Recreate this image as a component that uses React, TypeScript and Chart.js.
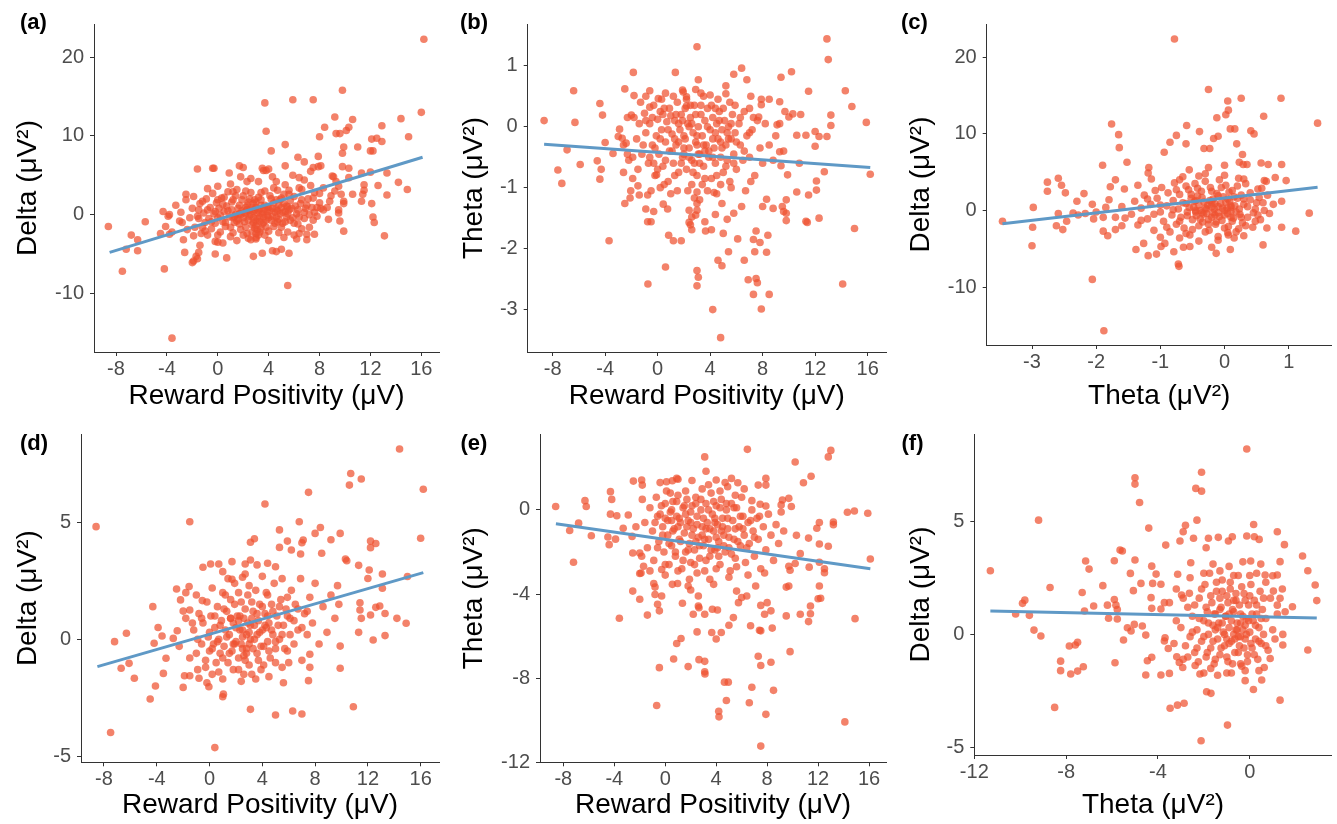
import React, { useEffect, useRef } from "react";
import { Chart, registerables } from "chart.js";
Chart.register(...registerables);

type Pt = [number, number];

// ---------- tick values ----------
const rpTicks = [-8, -4, 0, 4, 8, 12, 16];
const deltaTicksTop = [-10, 0, 10, 20];
const thetaTicksB = [-3, -2, -1, 0, 1];
const thetaTicksC = [-3, -2, -1, 0, 1];
const deltaTicksBottom = [-5, 0, 5];
const thetaTicksE = [-12, -8, -4, 0];
const thetaTicksF = [-12, -8, -4, 0];

// ---------- panel (a): Reward Positivity vs Delta ----------
const aOuter: Pt[] = [[16.2,22.3],[16.0,13.0],[15.0,9.9],[14.9,3.2],[14.2,4.1],[14.4,12.2],[13.3,5.3],[13.3,2.5],[13.1,-2.7],[12.9,11.3],[12.9,9.3],[12.5,9.7],[12.1,9.6],[12.0,8.1],[12.2,8.1],[12.6,3.7],[12.1,1.4],[12.2,-0.3],[12.3,-1.0],[12.0,5.4],[11.5,3.8],[11.5,3.1],[11.4,2.6],[11.3,5.3],[11.0,8.6],[11.3,1.7],[10.6,12.1],[10.3,11.1],[10.1,10.7],[9.9,8.6],[9.8,6.1],[9.9,1.7],[9.9,1.4],[10.3,4.7],[10.6,2.6],[10.3,5.9],[9.8,7.8],[9.6,10.3],[9.3,10.3],[9.2,12.4],[9.8,15.8],[9.9,-2.1],[9.6,-0.8],[9.5,0.2],[9.5,0.6],[9.7,2.6],[9.5,3.6],[9.3,4.2],[9.1,4.8],[9.0,4.9],[8.8,1.7],[8.7,-0.6],[8.4,11.1],[8.0,9.9],[7.9,7.4],[7.9,6.1],[7.5,14.6],[5.9,14.6],[3.7,14.2],[3.8,10.6],[4.2,8.1],[5.3,8.9],[6.3,7.3],[6.8,6.7],[7.5,6.0],[5.3,6.2],[8.0,2.7],[8.1,0.8],[8.3,0.6],[7.6,0.3],[7.5,-0.7],[7.6,-2.5],[7.0,-2.5],[7.0,-3.2],[6.4,-2.4],[6.2,-3.1],[5.6,-4.9],[5.5,-9.0],[5.0,-4.4],[4.6,-4.7],[4.3,-4.6],[3.5,-4.9],[2.8,-5.3],[3.0,-3.1],[3.0,-2.9],[3.0,-2.4],[0.7,-5.5],[-0.2,-5.0],[-0.2,-3.4],[0.0,-3.5],[-1.4,-3.9],[-1.5,-4.8],[-1.7,-5.3],[-1.9,-5.9],[-2.0,-6.1],[-1.6,-5.6],[-2.6,-4.8],[-2.7,-3.2],[-2.8,-1.0],[-3.6,-2.2],[-3.8,-2.5],[-3.8,0.0],[-3.9,-0.2],[-4.3,0.4],[-4.1,-1.5],[-4.5,-2.4],[-4.2,-6.9],[-3.6,-15.7],[-5.7,-0.9],[-6.3,-3.2],[-6.3,-4.6],[-6.8,-2.6],[-7.2,-4.4],[-7.5,-7.2],[-8.6,-1.5],[-2.5,2.6],[-2.5,1.9],[-1.9,2.3],[-1.6,5.8],[-1.5,0.6],[-1.2,1.7],[-0.4,5.9],[-0.3,5.9],[-0.8,3.3],[0.0,3.6],[0.9,5.3],[1.7,6.2],[2.0,6.0],[1.8,4.8],[2.3,4.2],[3.2,4.2],[3.5,5.9],[3.6,5.6],[3.8,5.6],[4.0,5.8],[4.6,4.2],[5.3,3.8],[5.9,5.0],[6.4,4.7],[6.8,4.4],[7.3,5.5],[8.1,6.2]];
const aCore: Pt[] = [[-2.2,-0.4],[-2.0,0.8],[-1.8,-1.6],[-1.6,-0.2],[-1.4,1.4],[-1.3,-2.4],[-1.1,0.2],[-1.0,-1.0],[-0.9,2.0],[-0.7,-0.5],[-0.6,0.9],[-0.5,-1.8],[-0.4,2.7],[-0.3,0.1],[-0.2,-1.1],[-0.1,1.5],[0.0,-0.4],[0.1,0.8],[0.2,-2.2],[0.3,2.1],[0.4,-0.9],[0.5,0.4],[0.6,-1.5],[0.7,1.1],[0.8,2.9],[0.9,-0.3],[1.0,-2.8],[1.1,0.6],[1.2,1.9],[1.3,-1.0],[1.4,0.0],[1.5,3.2],[1.6,-0.6],[1.7,1.2],[1.8,-1.9],[1.9,0.5],[2.0,2.4],[2.1,-0.9],[2.2,0.9],[2.3,-2.4],[2.4,1.6],[2.5,-0.2],[2.6,2.8],[2.7,-1.3],[2.8,0.4],[2.9,1.9],[3.0,-0.8],[3.0,0.9],[3.1,-1.9],[3.2,2.2],[3.3,-0.3],[3.4,1.2],[3.5,-1.2],[3.6,0.3],[3.7,3.0],[3.8,-0.7],[3.9,1.0],[4.0,-2.1],[4.1,0.5],[4.2,2.0],[4.3,-0.2],[4.4,1.5],[4.5,-1.1],[4.6,0.7],[4.7,3.1],[4.8,-0.6],[4.9,1.9],[5.0,-1.6],[5.1,0.3],[5.2,2.6],[5.3,-0.9],[5.4,1.1],[5.5,-2.2],[5.6,0.6],[5.7,1.8],[5.9,-0.4],[6.0,2.3],[6.2,0.1],[6.3,-1.2],[6.5,1.4],[6.6,3.2],[6.8,-0.5],[6.9,0.8],[7.1,2.0],[7.2,-1.6],[7.4,0.9],[7.6,2.8],[7.8,-0.2],[8.0,1.5],[8.3,3.4],[8.6,0.9],[8.9,2.4],[9.2,3.0],[1.0,3.9],[2.6,4.6],[4.3,4.8],[5.6,3.1],[0.4,-3.6],[1.5,-3.3],[2.4,-3.0],[4.0,-3.3],[5.2,-2.9],[6.0,-2.6],[-0.8,-2.6],[-1.9,-2.7],[-2.4,-1.9],[-3.0,-0.8],[-3.3,1.2],[-2.9,0.3],[2.2,0.1],[2.5,0.6],[2.8,-0.4],[3.1,0.2],[3.3,0.7],[3.6,-0.3],[3.9,0.4],[2.9,-1.7],[3.2,-2.6],[2.7,-2.2],[3.4,-1.8],[1.7,0.1],[1.2,-0.4],[4.6,-0.3],[5.0,0.9],[5.5,0.1]];
const aDense: Pt[] = [[0.2,-0.1],[0.4,1.3],[0.6,-1.0],[0.8,0.5],[1.0,-1.6],[1.1,1.6],[1.3,-0.2],[1.4,2.4],[1.6,0.8],[1.7,-1.2],[1.9,1.9],[2.0,-0.4],[2.1,0.3],[2.2,-1.6],[2.3,1.2],[2.4,-0.7],[2.5,2.0],[2.6,0.0],[2.7,0.9],[2.8,-1.0],[2.9,0.6],[3.0,1.6],[3.0,-1.4],[3.1,-0.5],[3.2,0.5],[3.3,-2.2],[3.4,1.9],[3.5,0.1],[3.6,-1.0],[3.7,1.2],[3.8,-1.6],[3.9,-0.1],[4.0,0.9],[4.1,2.4],[4.2,-0.7],[4.3,0.8],[4.4,-1.5],[4.5,0.3],[4.6,1.9],[4.7,-0.9],[4.8,1.2],[4.9,0.1],[5.0,2.1],[5.1,-1.1],[5.2,1.4],[5.3,0.4],[5.4,-0.3],[5.5,1.0],[5.7,-0.7],[5.8,0.8],[6.0,-1.1],[6.1,1.1],[6.3,0.6],[6.4,-0.3],[6.6,1.9],[6.8,0.3],[7.0,1.2],[7.2,0.0],[7.5,2.1],[7.8,0.9],[-0.5,-0.9],[-0.8,0.6],[-1.2,-1.6],[-1.5,-0.5],[-0.2,0.4],[0.0,1.9],[0.5,2.2],[1.2,2.9],[2.2,3.0],[3.4,2.8],[4.4,3.4],[5.6,2.6],[6.4,3.4],[7.3,3.7],[0.0,-2.6],[1.2,-2.3],[2.0,-2.6],[2.6,-3.2],[3.7,-2.6],[4.8,-2.3],[6.6,-1.8],[-1.0,-2.1],[1.5,-0.8],[2.3,0.6],[3.6,0.7],[4.0,-0.4],[2.8,1.4],[3.3,-0.9],[1.8,0.0],[4.7,0.5]];
const aLine: Pt[] = [[-8.5,-4.8],[16.1,7.3]];

// ---------- panel (b): Reward Positivity vs Theta ----------
const bOuter: Pt[] = [[-8.65,0.10],[-7.6,-0.71],[-7.3,-0.93],[-6.9,-0.38],[-6.4,0.59],[-6.3,0.07],[-5.9,-0.62],[-4.4,0.38],[-4.2,0.19],[-4.6,-0.56],[-4.4,-0.86],[-4.3,-0.70],[-4.0,-0.26],[-3.7,-1.87],[-3.4,-0.44],[-3.0,-0.16],[-2.9,-0.04],[-2.7,-0.19],[-2.6,-0.75],[-2.5,-1.26],[-2.5,0.62],[-2.4,-0.27],[-2.2,-0.55],[-1.85,0.89],[-1.8,0.51],[-2.3,0.15],[-2.0,0.19],[-2.1,-1.17],[-2.05,-1.05],[-1.9,-0.85],[-1.5,-0.97],[-1.4,-1.12],[-0.76,-1.12],[-0.9,-1.35],[-0.76,-1.56],[-0.5,-1.56],[-0.74,-2.58],[-0.6,0.59],[-0.6,0.32],[-0.3,-1.39],[-0.08,-0.79],[0.05,0.46],[0.6,-2.3],[0.84,-1.78],[0.76,-1.35],[0.43,-1.27],[1.2,-1.87],[1.8,-1.87],[1.35,0.89],[1.95,0.57],[2.2,0.49],[2.2,0.34],[2.9,0.61],[3.1,0.77],[3.0,1.31],[4.0,0.52],[2.6,-1.48],[2.4,-1.37],[2.4,-1.57],[2.5,-1.61],[2.6,-1.69],[2.8,-1.17],[3.0,-1.07],[3.0,-1.26],[3.0,-1.37],[2.9,-1.45],[3.0,-2.36],[3.1,-2.47],[3.0,-2.61],[3.2,-1.2],[3.6,-1.56],[3.65,-1.71],[4.1,-1.69],[4.3,-1.08],[4.4,-1.44],[4.6,-2.19],[4.9,-2.28],[4.2,-3.0],[4.8,-3.46],[5.0,-1.75],[4.9,-1.26],[5.3,-1.52],[5.4,-2.05],[5.8,-1.42],[6.1,-1.84],[6.4,-1.31],[6.6,-2.19],[6.9,-2.51],[7.3,-2.75],[7.5,-2.49],[7.6,-2.56],[7.4,-2.05],[7.3,-1.85],[7.5,-1.71],[7.8,-1.90],[7.9,-2.99],[8.5,-2.75],[8.3,-2.06],[8.4,-1.78],[8.3,-1.19],[8.0,-1.31],[8.8,-1.34],[9.5,-1.31],[9.6,-1.39],[9.8,-1.42],[9.8,-1.54],[9.8,-1.2],[9.9,-0.79],[10.6,-1.07],[10.8,-0.6],[11.3,-1.55],[11.4,-1.57],[11.5,-1.12],[12.1,-1.04],[12.3,-1.5],[12.1,-0.89],[12.3,-0.16],[12.0,-0.08],[12.0,-0.32],[12.7,-0.74],[12.9,-0.16],[12.9,1.44],[13.0,1.1],[13.2,0.19],[13.2,0.02],[14.3,0.59],[14.8,0.33],[15.0,-1.67],[14.1,-2.58],[15.9,0.07],[16.2,-0.78],[11.5,0.58],[10.9,0.2],[10.3,0.21],[10.2,0.9],[10.0,0.16],[9.7,0.25],[9.4,0.81],[9.3,0.41],[9.1,0.03],[11.3,-0.14],[10.6,-0.14],[9.3,-0.41],[9.4,-0.64],[7.9,0.45],[7.9,0.36],[7.7,0.16],[7.3,0.15],[7.0,0.3],[6.8,0.77],[6.4,0.96],[5.8,0.86],[5.2,0.67],[5.2,0.54],[7.1,-0.9]];
const bCore: Pt[] = [[-1.8,0.15],[-1.6,-0.2],[-1.4,0.05],[-1.2,-0.45],[-1.0,0.22],[-0.9,-0.1],[-0.7,-0.6],[-0.6,0.05],[-0.4,-0.3],[-0.3,0.35],[-0.2,-0.8],[-0.1,-0.15],[0.0,0.12],[0.1,-0.45],[0.2,0.25],[0.3,-0.05],[0.4,-0.65],[0.5,0.3],[0.6,-0.25],[0.7,0.08],[0.8,-0.9],[0.9,-0.4],[1.0,0.18],[1.1,-0.12],[1.2,-0.6],[1.3,0.1],[1.4,-0.3],[1.5,0.4],[1.6,-0.75],[1.7,-0.05],[1.8,0.2],[1.9,-0.5],[2.0,-0.15],[2.1,0.3],[2.2,-0.7],[2.3,0.05],[2.4,-0.35],[2.5,0.15],[2.6,-0.55],[2.7,-0.1],[2.8,0.35],[2.9,-0.25],[3.0,-0.8],[3.1,0.0],[3.2,-0.45],[3.3,0.2],[3.4,-0.15],[3.5,-0.65],[3.6,0.1],[3.7,-0.3],[3.8,0.3],[3.9,-0.5],[4.0,-0.05],[4.1,-0.85],[4.2,0.15],[4.3,-0.35],[4.4,-0.6],[4.5,0.05],[4.6,-0.2],[4.7,0.25],[4.8,-0.5],[4.9,-0.05],[5.0,-0.75],[5.1,0.1],[5.2,-0.3],[5.3,-0.55],[5.4,0.0],[5.5,-0.9],[5.6,-0.2],[5.7,0.2],[5.8,-0.45],[5.9,-0.1],[6.0,-0.7],[6.2,0.05],[6.3,-0.3],[6.5,-0.55],[6.6,0.25],[6.8,-0.15],[7.0,-0.5],[7.2,-0.05],[7.4,-0.8],[7.6,0.1],[7.8,-0.35],[8.0,-0.6],[8.2,0.05],[8.5,-0.3],[8.8,-0.55],[9.0,-0.15],[9.3,0.05],[9.6,-0.4],[0.2,-1.0],[1.0,-1.1],[2.3,-1.05],[3.4,-0.95],[4.5,-1.1],[5.6,-1.0],[6.7,-1.05],[-0.5,-1.05],[-1.5,-0.7],[-0.9,0.5],[0.6,0.55],[1.9,0.6],[3.3,0.55],[4.6,0.45],[5.5,0.4],[7.1,0.5],[8.5,0.45],[-2.3,-0.45],[-2.6,-0.3],[-1.9,-0.5],[1.3,-0.2],[2.4,0.0],[3.0,-0.3],[3.6,-0.4],[4.2,-0.2],[2.0,-0.35],[2.8,-0.6],[4.8,-0.25],[5.3,-0.1],[1.6,0.05]];
const bDense: Pt[] = [[-1.1,-0.3],[-0.9,0.1],[-0.6,-0.5],[-0.4,0.15],[-0.2,-0.35],[0.0,-0.7],[0.2,-0.2],[0.4,0.2],[0.6,-0.55],[0.8,-0.05],[0.9,0.3],[1.1,-0.4],[1.3,-0.8],[1.4,0.2],[1.6,-0.25],[1.8,-0.6],[1.9,0.1],[2.1,-0.2],[2.2,0.45],[2.4,-0.5],[2.6,0.05],[2.7,-0.75],[2.9,0.2],[3.0,-0.15],[3.2,-0.6],[3.3,0.35],[3.5,-0.3],[3.6,-0.85],[3.8,0.0],[3.9,-0.4],[4.1,0.35],[4.2,-0.5],[4.4,-0.1],[4.5,-0.8],[4.7,0.1],[4.9,-0.35],[5.0,0.3],[5.2,-0.65],[5.4,-0.2],[5.6,0.05],[5.8,-0.6],[6.0,-0.25],[6.3,0.15],[6.6,-0.4],[7.0,-0.1],[0.5,-0.95],[1.5,-1.05],[2.6,-0.95],[3.8,-1.05],[4.8,-0.95],[-1.3,0.4],[0.3,0.45],[1.2,0.5],[2.5,0.35],[3.5,0.5],[4.4,0.3],[5.9,0.35],[-0.3,-0.6],[2.0,-0.45],[3.1,-0.45]];
const bLine: Pt[] = [[-8.65,-0.29],[16.2,-0.67]];

// ---------- panel (c): Theta vs Delta ----------
const cOuter: Pt[] = [[-0.78,22.4],[-0.25,15.8],[0.05,14.3],[0.26,14.65],[0.88,14.65],[0.06,13.1],[0.02,12.5],[-0.12,12.1],[0.61,12.3],[1.45,11.4],[0.09,10.65],[0.16,10.65],[0.41,10.4],[0.46,10.0],[-0.10,9.7],[-0.17,9.4],[-0.39,10.3],[-0.59,11.1],[-0.75,9.8],[-0.85,8.9],[-0.6,8.7],[-0.32,8.1],[-0.23,8.1],[0.19,8.7],[0.28,7.3],[0.23,6.3],[0.29,6.0],[0.35,6.0],[-0.94,7.6],[-1.76,11.3],[-1.65,9.9],[-1.64,8.2],[-1.52,6.3],[-1.9,5.9],[-1.7,4.0],[-1.78,3.1],[-1.56,2.8],[-1.18,5.6],[-1.14,4.1],[-1.19,4.9],[-1.35,3.3],[-1.08,2.6],[-2.59,4.2],[-2.54,3.3],[-2.76,3.7],[-2.76,2.5],[-2.48,2.3],[-2.19,2.2],[-2.3,1.2],[-2.06,0.8],[-2.98,0.4],[-2.59,-0.4],[-2.36,-0.35],[-2.28,-0.6],[-2.17,-0.4],[-3.46,-1.4],[-2.99,-2.2],[-3.0,-4.6],[-2.62,-2.0],[-2.52,-2.5],[-2.46,-1.4],[-2.04,-1.1],[-2.06,-9.0],[-1.88,-15.7],[-1.89,-0.9],[-1.85,0.4],[-1.89,-2.7],[-1.82,-3.3],[-1.7,-2.5],[-1.6,-2.0],[-1.55,-1.0],[-1.38,-5.1],[-1.26,-4.3],[-1.19,-5.9],[-1.06,-5.7],[-0.99,-4.7],[-0.93,-4.3],[-0.79,-5.4],[-0.72,-7.0],[-0.71,-7.3],[-0.64,-4.8],[-0.54,-4.7],[-0.2,-4.8],[-0.13,-5.6],[0.09,-5.1],[-0.1,-3.4],[0.06,-3.2],[0.3,-3.3],[0.22,-2.4],[0.48,-1.4],[0.66,-2.3],[0.6,-4.5],[0.89,-2.2],[1.11,-2.7],[1.32,-0.35],[0.62,0.0],[0.76,0.8],[0.89,1.2],[0.79,4.3],[0.96,3.9],[0.68,6.0],[0.89,6.0],[0.57,6.2],[0.62,3.9],[0.58,2.9],[0.67,2.0],[0.54,1.7],[0.52,-0.6]];
const cCore: Pt[] = [[-1.45,-0.5],[-1.4,1.2],[-1.35,-1.9],[-1.3,0.3],[-1.25,2.0],[-1.2,-1.1],[-1.15,0.8],[-1.1,-2.6],[-1.05,1.6],[-1.0,-0.2],[-0.98,3.0],[-0.95,-1.4],[-0.9,0.6],[-0.88,2.3],[-0.85,-2.8],[-0.82,-0.6],[-0.8,1.3],[-0.78,3.6],[-0.75,-1.8],[-0.72,0.2],[-0.7,2.1],[-0.68,-0.9],[-0.65,4.4],[-0.63,-2.3],[-0.6,0.9],[-0.58,-0.2],[-0.56,2.7],[-0.54,-3.2],[-0.52,1.6],[-0.5,-1.2],[-0.48,0.4],[-0.46,3.5],[-0.44,-0.7],[-0.42,1.9],[-0.4,-2.0],[-0.38,0.0],[-0.36,2.5],[-0.34,-1.5],[-0.32,1.1],[-0.3,4.8],[-0.28,-0.4],[-0.26,0.7],[-0.24,-2.6],[-0.22,3.0],[-0.2,-0.9],[-0.18,1.5],[-0.16,0.2],[-0.14,-1.8],[-0.12,2.2],[-0.1,-0.3],[-0.08,4.0],[-0.06,0.9],[-0.04,-1.3],[-0.02,1.8],[0.0,-0.6],[0.02,3.3],[0.04,0.3],[0.06,-2.1],[0.08,1.2],[0.1,-0.1],[0.12,2.6],[0.14,-1.0],[0.16,0.6],[0.18,-2.8],[0.2,1.6],[0.22,4.2],[0.24,-0.5],[0.26,2.0],[0.28,-1.6],[0.3,0.8],[0.33,3.5],[0.36,-0.9],[0.4,1.4],[0.44,-2.2],[0.48,0.2],[0.52,2.8],[0.56,-1.2],[0.6,1.0],[0.65,3.8],[0.7,-0.4],[-0.55,5.3],[-0.25,5.6],[0.0,5.9],[-0.4,-4.0],[-0.1,-3.9],[0.15,-3.6],[-0.7,-3.6],[-1.0,-3.5],[-1.7,-0.9],[-1.8,1.4],[-1.6,0.5],[-2.0,-0.2],[-0.3,0.3],[-0.2,1.0],[-0.1,0.5],[0.0,0.0],[-0.35,-0.3],[-0.15,-0.6],[0.05,1.5],[-0.45,1.3],[0.1,0.4],[-0.25,-1.2]];
const cDense: Pt[] = [[-0.8,0.1],[-0.75,2.7],[-0.7,-1.4],[-0.65,1.0],[-0.6,3.2],[-0.58,-0.7],[-0.55,0.4],[-0.52,2.1],[-0.5,-2.5],[-0.47,1.2],[-0.45,-0.2],[-0.42,2.9],[-0.4,0.7],[-0.38,-1.1],[-0.35,1.7],[-0.33,-0.5],[-0.3,3.8],[-0.28,0.2],[-0.25,-1.8],[-0.23,1.3],[-0.2,2.5],[-0.18,-0.3],[-0.15,0.9],[-0.13,-1.5],[-0.1,1.9],[-0.08,-0.8],[-0.05,3.0],[-0.03,0.3],[0.0,-2.3],[0.02,1.1],[0.05,-0.4],[0.07,2.4],[0.1,0.6],[0.12,-1.4],[0.15,1.8],[0.18,-0.2],[0.2,3.2],[0.23,0.2],[0.26,-0.9],[0.3,1.5],[0.33,-2.0],[0.36,0.5],[0.4,2.3],[0.45,-0.3],[0.5,1.0],[-1.0,0.7],[-1.1,-0.5],[-1.2,1.5],[-1.3,-1.3],[-0.9,-2.2],[-0.7,4.0],[-0.4,4.5],[0.0,4.6],[0.3,4.1],[-0.6,-3.0],[-0.3,-2.8],[0.05,-2.9],[-0.45,0.0],[-0.2,0.5],[0.1,-0.9]];
const cLine: Pt[] = [[-3.46,-1.74],[1.45,3.04]];

// ---------- panel (d): Reward Positivity vs Delta ----------
const dOuter: Pt[] = [[14.4,8.16],[10.7,7.11],[11.5,6.87],[10.6,6.61],[7.5,6.3],[16.2,6.43],[4.2,5.8],[-1.5,5.04],[-8.6,4.83],[6.8,5.04],[5.3,4.69],[8.4,4.79],[8.0,4.54],[9.9,4.54],[16.0,4.33],[9.2,4.27],[7.1,4.26],[7.0,4.14],[3.4,4.31],[3.1,4.16],[5.9,4.21],[12.2,4.21],[12.6,4.11],[12.2,3.93],[5.3,3.94],[6.2,3.83],[6.9,3.66],[8.5,3.69],[10.3,3.44],[10.4,3.37],[11.3,3.17],[12.1,2.97],[13.1,2.8],[12.0,2.61],[15.0,2.69],[13.1,2.19],[12.6,1.37],[12.9,1.43],[13.3,1.11],[11.4,1.57],[11.4,1.26],[11.5,0.9],[12.2,1.04],[14.2,0.9],[14.9,0.69],[11.3,0.3],[12.4,-0.03],[13.3,0.16],[10.9,-2.89],[9.9,-1.24],[9.9,-0.29],[7.6,-0.64],[7.6,-1.2],[7.5,-1.77],[7.0,-3.2],[6.3,-3.07],[5.6,-1.86],[5.0,-3.24],[3.1,-3.0],[0.4,-4.64],[1.0,-2.46],[1.05,-2.35],[-0.05,-2.03],[-0.2,-1.86],[-2.0,-2.06],[-1.9,-1.56],[-1.5,-1.56],[-0.8,-1.67],[-4.1,-2.0],[-4.5,-2.56],[-3.5,-1.46],[-3.3,-0.81],[-7.5,-3.99],[-5.7,-1.67],[-6.7,-1.24],[-6.1,-1.03],[-7.2,-0.1],[-6.3,0.26],[-4.3,1.4],[-3.9,0.51],[-3.6,0.14],[-4.2,-0.17],[-2.75,0.04],[-2.45,0.37],[-2.2,1.69],[-2.5,2.16],[-1.8,2.0],[-1.55,2.26],[-1.0,1.9],[-0.5,3.09],[0.08,3.23],[0.7,3.23],[1.0,2.9],[1.7,3.33],[2.7,3.23],[3.1,3.4],[3.6,3.19],[4.4,3.26],[5.0,3.11],[1.7,2.57],[2.5,2.66],[-0.55,1.66],[-2.0,1.21],[-1.5,1.26]];
const dCore: Pt[] = [[-1.2,0.4],[-1.0,-0.6],[-0.8,1.1],[-0.6,-0.2],[-0.5,0.7],[-0.3,-1.2],[-0.2,1.6],[-0.1,0.1],[0.0,-0.5],[0.1,1.0],[0.2,2.2],[0.3,-0.2],[0.4,0.5],[0.5,-1.0],[0.6,1.4],[0.7,0.0],[0.8,-0.6],[0.9,0.8],[1.0,2.0],[1.1,-0.3],[1.2,0.4],[1.3,1.2],[1.4,-1.0],[1.5,0.2],[1.6,1.7],[1.7,-0.5],[1.8,0.7],[1.9,2.4],[2.0,-0.1],[2.1,1.0],[2.2,-1.3],[2.3,0.4],[2.4,1.6],[2.5,-0.4],[2.6,0.9],[2.7,-0.9],[2.8,0.2],[2.9,1.9],[3.0,-0.2],[3.1,0.6],[3.2,-1.5],[3.3,1.2],[3.4,0.0],[3.5,2.1],[3.6,-0.6],[3.7,0.8],[3.8,1.5],[3.9,-0.3],[4.0,0.4],[4.1,-1.1],[4.2,1.1],[4.3,2.0],[4.4,-0.1],[4.5,0.7],[4.6,-0.8],[4.7,1.5],[4.8,0.2],[4.9,2.4],[5.0,-0.4],[5.1,1.0],[5.3,0.0],[5.4,1.7],[5.5,-1.2],[5.6,0.6],[5.8,1.3],[5.9,-0.5],[6.1,0.9],[6.2,2.1],[6.4,-0.2],[6.5,1.5],[6.7,0.4],[6.9,2.6],[7.0,-0.9],[7.2,1.1],[7.4,0.2],[7.6,1.8],[7.8,0.7],[8.0,2.4],[8.3,-0.2],[8.6,1.4],[8.9,0.3],[9.2,1.9],[9.5,0.9],[9.7,2.3],[9.8,1.5],[1.0,-1.7],[2.4,-1.8],[3.5,-1.7],[4.5,-1.6],[0.2,-1.5],[6.0,-1.0],[1.4,2.6],[2.7,2.8],[4.0,2.7],[5.5,2.6],[-1.5,-0.8],[-1.8,0.9],[-2.3,-0.3],[-0.9,-1.3],[2.5,0.1],[2.8,-0.4],[3.0,0.3],[2.6,-0.7],[3.2,0.9],[2.2,0.8],[3.6,0.2],[1.9,-0.2],[4.3,0.5],[1.6,0.9]];
const dDense: Pt[] = [[0.0,0.3],[0.2,-0.4],[0.4,1.0],[0.6,-0.1],[0.8,0.6],[1.0,-0.8],[1.1,1.3],[1.3,0.1],[1.5,-0.6],[1.6,0.9],[1.8,-0.2],[1.9,1.5],[2.0,0.5],[2.2,-0.8],[2.3,1.0],[2.4,-0.2],[2.5,0.4],[2.7,1.3],[2.8,-0.6],[2.9,0.7],[3.0,-1.1],[3.1,0.0],[3.2,1.6],[3.3,-0.4],[3.4,0.6],[3.6,1.1],[3.7,-0.9],[3.8,0.3],[4.0,1.4],[4.1,-0.3],[4.2,0.6],[4.4,1.0],[4.5,-0.5],[4.7,0.4],[4.8,1.2],[5.0,-0.1],[5.2,0.6],[5.3,1.4],[5.5,0.2],[5.7,-0.4],[5.9,1.0],[6.1,0.2],[6.4,0.8],[6.7,1.3],[7.0,0.5],[7.4,1.2],[-0.6,0.9],[-0.9,0.0],[-1.3,0.7],[-0.3,-0.9],[0.7,-1.4],[1.8,-1.3],[2.6,-1.5],[3.9,-1.3],[5.0,-1.0],[1.2,1.9],[2.2,2.0],[3.0,2.3],[4.4,1.9],[5.9,1.8]];
const dLine: Pt[] = [[-8.5,-1.17],[16.2,2.86]];

// ---------- panel (e): Reward Positivity vs Theta ----------
const eOuter: Pt[] = [[-8.6,0.16],[-7.5,-0.98],[-7.2,-2.49],[-6.3,0.44],[-6.2,0.16],[-6.8,-0.63],[-5.8,-1.23],[-4.3,0.87],[-4.2,0.5],[-4.3,-0.2],[-4.5,-1.29],[-4.4,-1.65],[-3.9,-1.39],[-3.8,-0.28],[-3.6,-5.15],[-3.3,-0.87],[-2.9,-0.24],[-2.6,-1.26],[-2.55,-2.05],[-2.55,-3.86],[-2.5,1.37],[-2.0,-2.05],[-2.0,-3.02],[-2.0,-4.25],[-1.85,1.42],[-1.8,1.18],[-1.7,-2.68],[-1.85,-2.2],[-1.4,-5.0],[-0.9,-3.5],[-0.8,-3.67],[-0.8,-4.02],[-0.6,-4.49],[-0.46,-4.8],[-0.67,-9.3],[-0.46,-7.5],[-0.28,-4.09],[-0.28,-2.83],[0.1,1.34],[0.56,1.39],[1.0,1.46],[0.56,-3.54],[0.66,-7.09],[0.9,-6.35],[1.24,-6.11],[0.97,-3.5],[1.35,-4.44],[1.8,-7.45],[1.8,-3.62],[2.0,-3.81],[2.2,-4.96],[2.5,-5.8],[2.6,-4.09],[2.6,-4.57],[2.65,-4.65],[2.65,-7.12],[3.1,-4.96],[3.1,-7.2],[3.1,-7.7],[3.12,-7.8],[3.1,2.52],[3.2,1.84],[3.65,-5.83],[3.7,-4.72],[3.8,-3.54],[4.1,-4.76],[4.0,-6.14],[4.2,-9.57],[4.22,-9.84],[4.4,-5.83],[4.65,-8.19],[4.95,-8.19],[4.8,-9.06],[5.0,-5.48],[5.35,-5.12],[5.6,-3.86],[5.75,-4.41],[6.0,-4.17],[6.4,-4.09],[6.45,2.88],[6.7,-5.51],[6.8,-8.43],[6.6,-9.17],[7.1,-3.62],[7.3,-6.96],[7.4,-5.72],[7.5,-5.75],[7.5,-4.54],[7.5,-7.4],[7.5,-11.23],[7.9,-9.72],[8.0,-4.41],[7.8,-4.96],[8.3,-7.24],[8.4,-5.62],[8.3,-4.8],[8.5,-8.58],[9.5,-5.04],[9.8,-6.74],[10.6,-4.96],[11.25,-5.31],[11.4,-4.57],[11.4,-4.94],[12.0,-4.22],[12.2,-4.2],[12.1,-3.62],[14.1,-10.08],[14.9,-5.17],[10.2,2.28],[10.85,1.29],[11.45,1.6],[12.8,2.52],[13.0,2.83],[14.3,-0.11],[14.85,-0.05],[15.9,-0.16],[16.1,-2.33],[13.2,-0.58],[13.2,-0.7],[12.8,-1.73],[12.5,-2.8],[12.5,-2.99],[12.1,-2.49],[12.1,-1.62],[11.9,-0.87],[12.1,-0.6],[11.25,-1.34],[11.3,-2.72],[10.6,-2.08],[10.3,-1.21],[10.2,-2.55],[9.8,-2.87],[9.7,-2.68],[9.7,-3.62],[9.5,-3.67],[9.9,0.16],[9.7,0.55],[9.2,0.47],[9.1,0.24],[7.3,1.18],[7.9,1.5],[7.9,1.18],[7.9,0.19],[7.45,0.27],[6.8,0.44],[4.0,1.42],[4.9,1.1],[5.2,1.5],[5.7,1.29]];
const eCore: Pt[] = [[-1.8,0.5],[-1.6,-0.6],[-1.4,-1.8],[-1.2,0.1],[-1.0,-1.0],[-0.9,-2.4],[-0.7,0.6],[-0.6,-0.3],[-0.5,-1.5],[-0.3,0.2],[-0.2,-0.8],[-0.1,-2.0],[0.0,-0.4],[0.1,0.9],[0.2,-1.2],[0.3,-2.6],[0.4,-0.1],[0.5,-1.7],[0.6,0.4],[0.7,-0.9],[0.8,-2.2],[0.9,-0.3],[1.0,0.7],[1.1,-1.4],[1.2,-0.6],[1.3,-2.8],[1.4,0.1],[1.5,-1.1],[1.6,-2.0],[1.7,0.5],[1.8,-0.5],[1.9,-1.6],[2.0,-2.5],[2.1,0.2],[2.2,-0.9],[2.3,-1.9],[2.4,0.6],[2.5,-0.3],[2.6,-1.3],[2.7,-2.3],[2.8,0.0],[2.9,-0.8],[3.0,-1.7],[3.1,-2.9],[3.2,0.3],[3.3,-0.6],[3.4,-1.4],[3.5,-2.2],[3.6,0.8],[3.7,-0.2],[3.8,-1.0],[3.9,-1.9],[4.0,0.2],[4.1,-0.7],[4.2,-1.5],[4.3,-2.6],[4.4,0.5],[4.5,-0.4],[4.6,-1.2],[4.7,-2.0],[4.8,0.0],[4.9,-0.9],[5.0,-1.8],[5.1,-2.9],[5.2,0.3],[5.3,-0.5],[5.4,-1.4],[5.5,-2.3],[5.6,0.1],[5.8,-0.8],[5.9,-1.7],[6.0,0.6],[6.1,-0.3],[6.2,-1.2],[6.3,-2.5],[6.5,-0.6],[6.6,-1.6],[6.8,0.0],[6.9,-1.0],[7.0,-2.2],[7.2,-0.4],[7.3,-1.4],[7.5,-2.8],[7.7,-0.8],[7.9,-1.9],[8.1,-0.2],[8.3,-1.2],[8.5,-2.4],[8.7,-0.7],[8.9,-1.6],[9.1,-0.1],[9.3,-1.0],[-2.3,-0.8],[-1.9,-3.0],[-1.2,-2.9],[0.0,-3.1],[1.9,-3.3],[3.5,-3.3],[5.0,-3.2],[6.5,-3.1],[7.8,-3.0],[-0.4,1.3],[0.9,1.5],[2.1,1.4],[3.4,1.2],[4.7,1.3],[6.2,1.0],[1.0,-0.8],[2.0,-0.6],[2.4,-1.5],[3.2,-0.9],[3.9,-0.4],[4.4,-1.0],[1.6,-0.2],[2.9,-1.2],[4.1,-1.8],[0.5,-0.5]];
const eDense: Pt[] = [[-0.8,-0.6],[-0.6,-1.8],[-0.4,-0.2],[-0.2,-1.2],[0.0,0.3],[0.2,-0.5],[0.3,-1.6],[0.5,0.0],[0.6,-1.0],[0.8,-2.0],[0.9,0.4],[1.1,-0.4],[1.2,-1.5],[1.4,-2.4],[1.5,0.2],[1.7,-0.8],[1.8,-1.9],[2.0,-0.1],[2.1,-1.2],[2.3,-2.6],[2.4,0.3],[2.5,-0.7],[2.7,-1.7],[2.8,0.5],[3.0,-0.4],[3.1,-1.4],[3.2,-2.4],[3.4,0.0],[3.5,-0.9],[3.6,-1.9],[3.8,0.4],[3.9,-0.6],[4.0,-1.3],[4.2,-2.2],[4.3,0.1],[4.5,-0.8],[4.6,-1.7],[4.8,0.3],[4.9,-0.4],[5.0,-1.3],[5.2,-2.1],[5.4,0.1],[5.5,-0.9],[5.7,-1.5],[5.9,-0.3],[6.1,-0.9],[6.4,-1.8],[6.7,-0.5],[7.0,-1.3],[7.4,-0.3],[0.4,0.8],[1.6,0.9],[2.9,1.0],[4.3,0.9],[5.5,0.7],[0.0,-2.6],[1.0,-2.9],[2.5,-3.0],[4.0,-2.8],[5.6,-2.7]];
const eLine: Pt[] = [[-8.58,-0.66],[16.1,-2.8]];

// ---------- panel (f): Theta vs Delta ----------
const fOuter: Pt[] = [[-0.13,8.18],[-2.1,7.15],[-5.0,6.91],[-5.0,6.63],[-2.35,6.44],[-2.1,6.32],[-4.8,5.82],[-2.3,5.04],[-9.2,5.04],[0.17,4.85],[-4.4,4.69],[-2.8,4.81],[1.2,4.53],[-2.9,4.53],[-2.45,4.24],[-1.8,4.24],[-1.37,4.28],[-0.76,4.31],[-0.93,4.12],[-0.13,4.34],[0.2,4.31],[0.41,4.19],[-3.04,4.12],[-3.66,3.94],[-1.9,3.82],[1.51,3.96],[-11.3,2.81],[-8.7,2.07],[-7.3,1.85],[-7.15,3.24],[-7.0,2.88],[-6.4,2.15],[-5.65,3.72],[-5.55,3.68],[-5.9,3.25],[-5.9,1.54],[-5.83,1.29],[-5.77,1.1],[-6.2,1.29],[-6.15,0.71],[-5.77,0.68],[-6.8,1.25],[-7.2,1.03],[-9.9,1.37],[-9.8,1.51],[-10.2,0.9],[-9.6,0.84],[-9.4,0.19],[-9.1,-0.07],[-7.86,-0.51],[-7.6,-0.47],[-7.5,-0.35],[-8.24,-1.18],[-8.24,-1.6],[-7.8,-1.75],[-7.5,-1.62],[-7.25,-1.43],[-8.5,-3.22],[-5.87,-1.25],[-5.5,-0.25],[-5.2,2.69],[-5.0,3.28],[-5.07,1.93],[-5.33,0.29],[-5.17,0.15],[-5.03,0.44],[-4.74,2.25],[-4.68,0.37],[-4.53,-0.03],[-4.53,-1.79],[-4.46,-1.16],[-4.27,-1.01],[-4.27,3.01],[-4.08,2.66],[-4.3,1.62],[-4.27,1.15],[-4.23,2.25],[-3.87,2.21],[-3.87,1.12],[-3.72,1.4],[-3.69,-0.15],[-3.72,-0.29],[-3.55,-0.62],[-3.87,-1.79],[-3.5,-1.72],[-3.47,-3.26],[-3.15,-3.12],[-2.86,-3.04],[-3.18,-0.99],[-3.07,-1.24],[-2.92,-1.46],[-3.14,2.65],[-2.97,1.74],[-2.63,1.81],[-2.57,3.16],[-2.38,-1.37],[-2.24,-1.21],[-2.17,-1.75],[-1.88,-2.53],[-1.69,-2.6],[-0.97,-4.0],[-2.12,-4.69],[1.32,-2.9],[0.16,-2.43],[0.52,-2.01],[-0.2,-2.04],[0.63,-1.46],[0.89,-1.06],[1.44,-0.47],[1.44,0.0],[2.53,-0.69],[2.85,2.18],[2.92,1.49],[2.53,2.81],[2.3,3.46],[1.86,1.22],[1.54,1.0],[1.32,1.59],[1.2,1.29],[1.03,1.91],[1.42,2.0],[1.32,3.21],[1.0,2.59],[1.2,2.62],[0.67,2.62],[0.48,3.1],[0.04,3.24]];
const fCore: Pt[] = [[-3.0,0.3],[-2.8,-0.5],[-2.7,1.2],[-2.6,-0.1],[-2.5,0.8],[-2.4,-0.8],[-2.3,0.2],[-2.2,1.6],[-2.1,-0.3],[-2.0,0.6],[-1.95,2.2],[-1.9,-1.0],[-1.85,1.0],[-1.8,0.0],[-1.75,2.7],[-1.7,-0.6],[-1.65,1.4],[-1.6,0.4],[-1.55,-1.3],[-1.5,0.9],[-1.45,1.9],[-1.4,-0.2],[-1.35,0.5],[-1.3,-0.9],[-1.25,1.2],[-1.2,2.4],[-1.15,0.1],[-1.1,-0.5],[-1.05,0.8],[-1.0,1.7],[-0.95,-1.2],[-0.9,0.3],[-0.85,2.0],[-0.8,-0.3],[-0.75,1.1],[-0.7,0.0],[-0.65,-0.8],[-0.6,1.5],[-0.55,0.5],[-0.5,2.6],[-0.45,-0.5],[-0.4,0.9],[-0.35,-1.4],[-0.3,0.2],[-0.25,1.8],[-0.2,-0.2],[-0.15,0.7],[-0.1,-0.9],[-0.05,1.3],[0.0,0.1],[0.05,2.2],[0.1,-0.6],[0.15,0.6],[0.2,1.5],[0.25,-0.2],[0.3,0.9],[0.35,-1.1],[0.4,0.3],[0.45,1.9],[0.5,-0.4],[0.55,1.1],[0.6,0.0],[0.7,0.7],[0.8,-0.7],[0.9,1.6],[1.0,0.2],[1.1,-0.2],[1.2,0.9],[-3.3,-0.4],[-3.5,1.4],[-3.2,2.0],[-2.9,-1.1],[-2.0,-1.7],[-1.4,-1.8],[-0.8,-1.7],[-0.2,-1.6],[0.4,-1.6],[-2.6,2.5],[-1.6,3.1],[-0.9,3.0],[-0.3,3.2],[0.3,2.7],[0.7,2.3],[-1.2,0.5],[-0.9,0.9],[-0.6,0.2],[-1.0,-0.2],[-0.4,0.5],[-1.5,0.2],[-0.7,1.5],[-0.2,0.4],[-1.3,1.6],[-0.5,-0.1]];
const fDense: Pt[] = [[-2.5,0.1],[-2.4,1.3],[-2.3,-0.6],[-2.2,0.7],[-2.1,2.0],[-2.0,-0.1],[-1.9,1.2],[-1.85,-0.8],[-1.8,0.5],[-1.7,1.7],[-1.6,-0.3],[-1.55,0.9],[-1.5,-1.1],[-1.45,2.3],[-1.4,0.3],[-1.3,1.1],[-1.25,-0.6],[-1.2,1.9],[-1.1,0.0],[-1.05,0.8],[-1.0,-1.0],[-0.95,1.4],[-0.9,-0.4],[-0.85,2.3],[-0.8,0.6],[-0.75,-1.3],[-0.7,1.0],[-0.65,-0.2],[-0.6,1.8],[-0.55,0.2],[-0.5,-0.8],[-0.45,1.3],[-0.4,-0.1],[-0.35,2.1],[-0.3,0.8],[-0.25,-0.6],[-0.2,1.5],[-0.15,0.0],[-0.1,-1.2],[-0.05,0.6],[0.0,1.7],[0.05,-0.4],[0.1,0.9],[0.2,-0.9],[0.25,0.4],[0.3,1.3],[0.4,-0.3],[0.5,0.7],[0.6,1.6],[0.7,-0.5],[-2.7,-1.0],[-2.9,1.6],[-3.2,0.6],[-2.0,2.7],[-1.3,2.8],[-0.7,2.6],[0.0,2.6],[-1.7,-1.5],[-1.0,-1.7],[-0.4,-1.3]];
const fLine: Pt[] = [[-11.3,1.03],[2.92,0.72]];

// ---------- titles ----------
const RP_TITLE = "Reward Positivity (\u03BCV)";
const DELTA_TITLE = "Delta (\u03BCV\u00B2)";
const THETA_TITLE = "Theta (\u03BCV\u00B2)";

// ---------- style ----------
const FONT = "'Liberation Sans', Arial, Helvetica, sans-serif";
const POINT_COLOR = "rgba(238, 82, 48, 0.72)";
const LINE_COLOR = "#5F99C6";
const AXIS_COLOR = "#333333";
const TICK_COLOR = "#4D4D4D";
const TICK_SIZE = 20;
const TITLE_SIZE = 28;

interface Box { left: number; top: number; width: number; height: number; }
interface Area { left: number; right: number; top: number; bottom: number; }
interface PanelSpec {
  label: string;
  points: Pt[];
  line: Pt[];
  xTitle: string;
  yTitle: string;
  xRange: [number, number];
  yRange: [number, number];
  xTicks: number[];
  yTicks: number[];
  box: Box;
  area: Area;
  yTitleX: number;
  xTitleY: number;
  labelX: number;
  labelY: number;
}

const panels: PanelSpec[] = [
  { label: "(a)", points: [...aOuter, ...aCore, ...aDense], line: aLine, xTitle: RP_TITLE, yTitle: DELTA_TITLE,
    xRange: [-9.73, 17.39], yRange: [-17.46, 24.23], xTicks: rpTicks, yTicks: deltaTicksTop,
    box: { left: 0, top: 0, width: 445, height: 415 }, area: { left: 94, right: 439, top: 24, bottom: 352 },
    yTitleX: 28.5, xTitleY: 396, labelX: 20, labelY: 22 },
  { label: "(b)", points: [...bOuter, ...bCore, ...bDense], line: bLine, xTitle: RP_TITLE, yTitle: THETA_TITLE,
    xRange: [-9.9, 17.4], yRange: [-3.695, 1.684], xTicks: rpTicks, yTicks: thetaTicksB,
    box: { left: 445, top: 0, width: 445, height: 415 }, area: { left: 527.7, right: 886, top: 24, bottom: 352 },
    yTitleX: 474, xTitleY: 396, labelX: 460, labelY: 22 },
  { label: "(c)", points: [...cOuter, ...cCore, ...cDense], line: cLine, xTitle: THETA_TITLE, yTitle: DELTA_TITLE,
    xRange: [-3.706, 1.67], yRange: [-17.57, 24.35], xTicks: thetaTicksC, yTicks: deltaTicksTop,
    box: { left: 890, top: 0, width: 447, height: 415 }, area: { left: 986.7, right: 1331.7, top: 24, bottom: 345 },
    yTitleX: 921, xTitleY: 396, labelX: 901, labelY: 22 },
  { label: "(d)", points: [...dOuter, ...dCore, ...dDense], line: dLine, xTitle: RP_TITLE, yTitle: DELTA_TITLE,
    xRange: [-9.743, 17.39], yRange: [-5.27, 8.8], xTicks: rpTicks, yTicks: deltaTicksBottom,
    box: { left: 0, top: 415, width: 445, height: 409 }, area: { left: 81, right: 439, top: 434, bottom: 762.3 },
    yTitleX: 28, xTitleY: 805.5, labelX: 20, labelY: 443 },
  { label: "(e)", points: [...eOuter, ...eCore, ...eDense], line: eLine, xTitle: RP_TITLE, yTitle: THETA_TITLE,
    xRange: [-9.83, 17.33], yRange: [-12, 3.61], xTicks: rpTicks, yTicks: thetaTicksE,
    box: { left: 445, top: 415, width: 445, height: 409 }, area: { left: 540, right: 886, top: 434, bottom: 762.3 },
    yTitleX: 474, xTitleY: 805.5, labelX: 460.5, labelY: 443 },
  { label: "(f)", points: [...fOuter, ...fCore, ...fDense], line: fLine, xTitle: THETA_TITLE, yTitle: DELTA_TITLE,
    xRange: [-12, 3.57], yRange: [-5.32, 8.84], xTicks: thetaTicksF, yTicks: deltaTicksBottom,
    box: { left: 890, top: 415, width: 447, height: 409 }, area: { left: 974.3, right: 1331.7, top: 434, bottom: 755 },
    yTitleX: 921, xTitleY: 805.5, labelX: 901.5, labelY: 443 },
];

function Panel({ spec }: { spec: PanelSpec }) {
  const ref = useRef<HTMLCanvasElement>(null);
  useEffect(() => {
    const s = spec;
    const half = (TITLE_SIZE * 1.2) / 2;
    const gridCfg = { display: true, drawOnChartArea: false, drawTicks: true, tickLength: 4, color: AXIS_COLOR, lineWidth: 1 };
    const borderCfg = { display: true, color: AXIS_COLOR, width: 1 };
    const chart = new Chart(ref.current as HTMLCanvasElement, {
      type: "scatter",
      data: {
        datasets: [
          {
            data: s.line.map(([x, y]) => ({ x, y })),
            showLine: true,
            borderColor: LINE_COLOR,
            borderWidth: 3,
            pointRadius: 0,
            pointHoverRadius: 0,
            order: 0,
          } as any,
          {
            data: s.points.map(([x, y]) => ({ x, y })),
            backgroundColor: POINT_COLOR,
            borderWidth: 0,
            pointRadius: 3.8,
            pointHoverRadius: 3.8,
            order: 1,
          } as any,
        ],
      },
      options: {
        animation: false,
        responsive: false,
        maintainAspectRatio: false,
        events: [],
        layout: {
          padding: {
            left: 0,
            top: s.area.top - s.box.top,
            right: s.box.left + s.box.width - s.area.right,
            bottom: 0,
          },
        },
        plugins: { legend: { display: false }, tooltip: { enabled: false } },
        scales: {
          x: {
            type: "linear",
            min: s.xRange[0],
            max: s.xRange[1],
            afterBuildTicks: (sc: any) => { sc.ticks = s.xTicks.map((v) => ({ value: v })); },
            afterFit: (sc: any) => { sc.height = s.box.top + s.box.height - s.area.bottom; },
            grid: gridCfg,
            border: borderCfg,
            ticks: {
              color: TICK_COLOR,
              font: { family: FONT, size: TICK_SIZE },
              padding: 1,
              maxRotation: 0,
              autoSkip: false,
              callback: (v: any) => String(v),
            },
            title: {
              display: true,
              text: s.xTitle,
              color: "#000000",
              font: { family: FONT, size: TITLE_SIZE },
              padding: { top: 0, bottom: s.box.top + s.box.height - s.xTitleY - half },
            },
          },
          y: {
            type: "linear",
            min: s.yRange[0],
            max: s.yRange[1],
            afterBuildTicks: (sc: any) => { sc.ticks = s.yTicks.map((v) => ({ value: v })); },
            afterFit: (sc: any) => { sc.width = s.area.left - s.box.left; },
            grid: gridCfg,
            border: borderCfg,
            ticks: {
              color: TICK_COLOR,
              font: { family: FONT, size: TICK_SIZE },
              padding: 6,
              autoSkip: false,
              callback: (v: any) => String(v),
            },
            title: {
              display: true,
              text: s.yTitle,
              color: "#000000",
              font: { family: FONT, size: TITLE_SIZE },
              padding: { top: s.yTitleX - s.box.left - half, bottom: 0 },
            },
          },
        },
      } as any,
    });
    return () => chart.destroy();
  }, [spec]);
  return (
    <canvas
      ref={ref}
      width={spec.box.width}
      height={spec.box.height}
      style={{ position: "absolute", left: spec.box.left, top: spec.box.top, width: spec.box.width, height: spec.box.height }}
    />
  );
}

export default function App() {
  return (
    <div style={{ position: "absolute", left: 0, top: 0, width: 1337, height: 824, background: "#ffffff", overflow: "hidden" }}>
      {panels.map((p) => (
        <Panel key={p.label} spec={p} />
      ))}
      {panels.map((p) => (
        <div
          key={"lbl" + p.label}
          style={{
            position: "absolute",
            left: p.labelX,
            top: p.labelY - 12,
            height: 24,
            lineHeight: "24px",
            fontFamily: FONT,
            fontWeight: "bold",
            fontSize: 22,
            color: "#000",
            whiteSpace: "nowrap",
          }}
        >
          {p.label}
        </div>
      ))}
    </div>
  );
}
